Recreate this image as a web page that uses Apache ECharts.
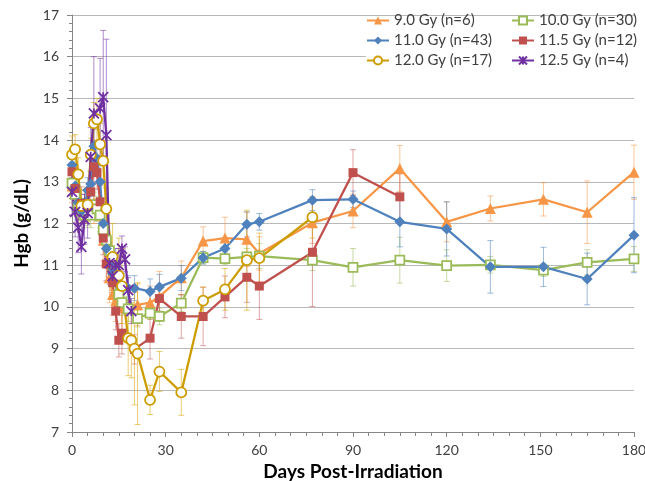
<!DOCTYPE html>
<html>
<head>
<meta charset="utf-8">
<script src="https://cdn.jsdelivr.net/npm/echarts@6/dist/echarts.min.js"></script>
<style>
	html, body { margin: 0; padding: 0; background: #fff; }
	#chart { width: 645px; height: 481px; }
</style>
</head>
<body>
<div id="chart"></div>
<script>
// Hgb mean and error, per dose group
var days90 = [0, 2, 4, 7, 9, 10, 11, 12, 13, 14, 16, 21, 25, 28, 35, 42, 49, 56, 60, 77, 90, 105, 120, 134, 151, 165, 180];
var hgb90 = [12.9, 12.4, 12.3, 12.5, 12.2, 11.6, 11.1, 10.7, 10.3, 10.15, 10.0, 10.05, 10.1, 10.25, 10.7, 11.58, 11.65, 11.62, 11.28, 12.02, 12.3, 13.32, 12.04, 12.36, 12.58, 12.27, 13.23];
var err90 = [0.4, 0.4, 0.3, 0.5, 0.4, 0.5, 0.5, 0.6, 0.5, 0.5, 0.6, 0.5, 0.4, 0.6, 0.4, 0.34, 0.5, 0.65, 0.4, 0.5, 0.4, 0.55, 0.48, 0.3, 0.4, 0.75, 0.65];

var days100 = [0, 1, 2, 3, 4, 5, 6, 7, 8, 9, 10, 11, 12, 13, 14, 15, 16, 18, 21, 25, 28, 35, 42, 49, 56, 60, 77, 90, 105, 120, 134, 151, 165, 180];
var hgb100 = [12.97, 12.7, 12.4, 12.3, 12.2, 12.25, 12.2, 12.45, 12.35, 12.2, 11.85, 11.6, 11.35, 11.0, 10.6, 10.3, 10.1, 9.95, 9.72, 9.85, 9.77, 10.09, 11.18, 11.16, 11.2, 11.22, 11.12, 10.95, 11.12, 10.99, 11.01, 10.88, 11.07, 11.15];
var err100 = [0.3, 0.3, 0.3, 0.3, 0.3, 0.3, 0.3, 0.3, 0.3, 0.3, 0.3, 0.3, 0.3, 0.3, 0.3, 0.3, 0.3, 0.3, 0.2, 0.15, 0.2, 0.2, 0.15, 0.15, 0.2, 0.3, 0.25, 0.45, 0.55, 0.38, 0.2, 0.15, 0.3, 0.3];

var days110 = [0, 1, 2, 3, 4, 5, 6, 7, 8, 9, 10, 11, 12, 13, 14, 16, 18, 20, 25, 28, 35, 42, 49, 56, 60, 77, 90, 105, 120, 134, 151, 165, 180];
var hgb110 = [13.4, 12.9, 12.5, 12.3, 12.4, 12.8, 12.95, 13.85, 13.56, 13.0, 12.0, 11.4, 11.0, 10.8, 10.6, 10.5, 10.45, 10.45, 10.37, 10.48, 10.69, 11.18, 11.4, 11.98, 12.04, 12.56, 12.58, 12.04, 11.87, 10.96, 10.96, 10.67, 11.72];
var err110 = [0.3, 0.3, 0.3, 0.3, 0.3, 0.3, 0.3, 0.4, 0.4, 0.4, 0.4, 0.4, 0.4, 0.4, 0.35, 0.3, 0.3, 0.3, 0.3, 0.3, 0.3, 0.15, 0.25, 0.3, 0.2, 0.25, 0.2, 0.6, 0.65, 0.63, 0.47, 0.62, 0.9];

var days115 = [0, 1, 3, 4, 6, 7, 8, 9, 10, 11, 13, 14, 15, 16, 20, 25, 28, 35, 42, 49, 56, 60, 77, 90, 105];
var hgb115 = [13.24, 12.84, 12.48, 12.4, 12.76, 13.36, 13.22, 12.52, 11.65, 11.03, 10.58, 9.9, 9.2, 9.37, 8.98, 9.25, 10.2, 9.77, 9.77, 10.24, 10.71, 10.5, 11.31, 13.22, 12.64];
var err115 = [0.4, 0.4, 0.4, 0.4, 0.4, 0.4, 0.4, 0.4, 0.4, 0.4, 0.4, 0.45, 0.4, 0.5, 0.35, 0.5, 0.3, 0.52, 0.7, 0.5, 0.6, 0.8, 1.3, 0.55, 0.55];

var days120 = [0, 1, 2, 3, 5, 6, 7, 8, 9, 10, 11, 13, 15, 16, 18, 19, 20, 21, 25, 28, 35, 42, 49, 56, 60, 77];
var hgb120 = [13.65, 13.78, 13.18, 12.42, 12.45, 13.65, 14.4, 14.5, 13.9, 13.5, 12.35, 11.2, 10.75, 10.5, 9.25, 9.2, 9.0, 8.88, 7.77, 8.45, 7.95, 10.15, 10.42, 11.12, 11.17, 12.15];
var err120 = [0.45, 0.35, 0.4, 0.4, 0.4, 0.4, 0.5, 0.5, 0.5, 0.5, 0.5, 0.8, 0.9, 0.9, 0.9, 0.9, 1.35, 1.7, 0.35, 0.48, 0.55, 0.33, 0.5, 1.2, 0.6, 0.5];

var days125 = [0, 1, 2, 3, 4, 5, 6, 7, 9, 10, 11, 12, 13, 14, 15, 16, 17, 18, 19];
var hgb125 = [12.76, 12.28, 11.9, 11.44, 12.1, 12.25, 13.6, 14.64, 14.76, 15.03, 14.12, 11.05, 10.74, 11.0, 11.0, 11.4, 11.14, 10.4, 9.9];
var err125 = [0.55, 0.6, 0.6, 0.65, 0.6, 0.6, 0.7, 1.36, 1.2, 1.6, 2.3, 0.5, 0.4, 0.4, 0.4, 0.3, 0.3, 0.3, 0.3];

var groups = [
	{ name: '9.0 Gy (n=6)', days: days90, hgb: hgb90, err: err90, color: '#F79646', errColor: 'rgba(247,150,70,0.55)', symbol: 'triangle', size: 11, hollow: false },
	{ name: '10.0 Gy (n=30)', days: days100, hgb: hgb100, err: err100, color: '#9BBB59', errColor: 'rgba(155,187,89,0.55)', symbol: 'rect', size: 9, hollow: true },
	{ name: '11.0 Gy (n=43)', days: days110, hgb: hgb110, err: err110, color: '#4F81BD', errColor: 'rgba(79,129,189,0.55)', symbol: 'diamond', size: 11, hollow: false },
	{ name: '11.5 Gy (n=12)', days: days115, hgb: hgb115, err: err115, color: '#C0504D', errColor: 'rgba(192,80,77,0.5)', symbol: 'rect', size: 9, hollow: false },
	{ name: '12.0 Gy (n=17)', days: days120, hgb: hgb120, err: err120, color: '#CC9C00', errColor: 'rgba(222,170,20,0.6)', symbol: 'circle', size: 10, hollow: true },
	{ name: '12.5 Gy (n=4)', days: days125, hgb: hgb125, err: err125, color: '#7030A0', errColor: 'rgba(112,48,160,0.55)', symbol: 'path://M0,0L10,10M10,0L0,10M5,0L5,10', size: 10, hollow: false }
];

var fontName = 'Lato';

function errorRender(params, api) {
	var x = api.value(0);
	var top = api.coord([x, api.value(2)]);
	var bot = api.coord([x, api.value(1)]);
	var st = { stroke: api.visual('color'), lineWidth: 1 };
	return {
		type: 'group',
		children: [
			{ type: 'line', shape: { x1: top[0], y1: top[1], x2: bot[0], y2: bot[1] }, style: st },
			{ type: 'line', shape: { x1: top[0] - 3, y1: top[1], x2: top[0] + 3, y2: top[1] }, style: st },
			{ type: 'line', shape: { x1: bot[0] - 3, y1: bot[1], x2: bot[0] + 3, y2: bot[1] }, style: st }
		]
	};
}

var series = [];
groups.forEach(function (g) {
	var bars = [];
	for (var i = 0; i < g.days.length; i++) {
		bars.push([g.days[i], g.hgb[i] - g.err[i], g.hgb[i] + g.err[i]]);
	}
	series.push({
		type: 'custom',
		name: g.name + ' err',
		renderItem: errorRender,
		itemStyle: { color: g.errColor },
		encode: { x: 0, y: [1, 2] },
		data: bars,
		silent: true,
		z: 1
	});
});
groups.forEach(function (g) {
	var pts = [];
	for (var i = 0; i < g.days.length; i++) {
		pts.push([g.days[i], g.hgb[i]]);
	}
	series.push({
		type: 'line',
		name: g.name,
		data: pts,
		symbol: g.symbol,
		symbolSize: g.size,
		showAllSymbol: true,
		lineStyle: { color: g.color, width: 2.25 },
		itemStyle: {
			color: g.hollow ? '#ffffff' : g.color,
			borderColor: g.color,
			borderWidth: g.hollow ? 1.75 : (g.symbol.indexOf('path') === 0 ? 1.75 : 0)
		},
		z: 3
	});
});

var legendText = { fontFamily: fontName, fontSize: 15, color: '#404040' };

var option = {
	animation: false,
	backgroundColor: '#ffffff',
	grid: { left: 72, right: 11, top: 15, bottom: 49, containLabel: false, outerBoundsMode: 'none' },
	xAxis: {
		type: 'value',
		min: 0,
		max: 180,
		interval: 30,
		name: 'Days Post-Irradiation',
		nameLocation: 'middle',
		nameGap: 25,
		nameTextStyle: { fontFamily: fontName, fontSize: 19, fontWeight: 'bold', color: '#000' },
		axisLine: { lineStyle: { color: '#868686', width: 1 } },
		axisTick: { show: true, length: 5, lineStyle: { color: '#868686' } },
		minorTick: { show: true, splitNumber: 6, length: 4, lineStyle: { color: '#868686' } },
		axisLabel: { fontFamily: fontName, fontSize: 14, color: '#404040', margin: 11 },
		splitLine: { show: false }
	},
	yAxis: {
		type: 'value',
		min: 7,
		max: 17,
		interval: 1,
		name: 'Hgb (g/dL)',
		nameLocation: 'middle',
		nameGap: 35,
		nameRotate: 90,
		nameTextStyle: { fontFamily: fontName, fontSize: 19, fontWeight: 'bold', color: '#000' },
		axisLine: { show: true, lineStyle: { color: '#868686', width: 1 } },
		axisTick: { show: true, length: 5, lineStyle: { color: '#868686' } },
		minorTick: { show: true, splitNumber: 5, length: 3, lineStyle: { color: '#868686' } },
		axisLabel: { fontFamily: fontName, fontSize: 14, color: '#404040', margin: 13 },
		splitLine: { show: true, lineStyle: { color: '#b8b8b8', width: 1 } }
	},
	graphic: [{
		type: 'rect',
		shape: { x: 366, y: 17, width: 268, height: 61 },
		style: { fill: '#ffffff' },
		z: 2
	}],
	legend: [{
		orient: 'vertical',
		left: 366,
		top: 13,
		padding: 0,
		itemGap: 5,
		itemWidth: 22,
		itemHeight: 10,
		textStyle: legendText,
		data: [groups[0].name, groups[2].name, groups[4].name]
	}, {
		orient: 'vertical',
		left: 511,
		top: 13,
		padding: 0,
		itemGap: 5,
		itemWidth: 22,
		itemHeight: 10,
		textStyle: legendText,
		data: [groups[1].name, groups[3].name, groups[5].name]
	}],
	series: series
};

var myChart = echarts.init(document.getElementById('chart'));
myChart.setOption(option);
</script>
</body>
</html>
